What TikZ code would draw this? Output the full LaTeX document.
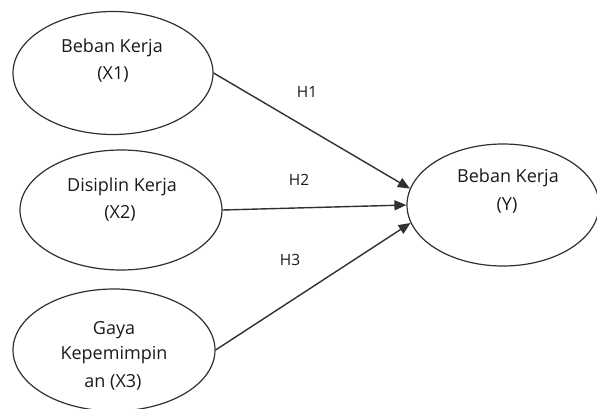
\documentclass[tikz,border=0pt]{standalone}
\usepackage{fontspec}
\setmainfont{Open Sans}
\usetikzlibrary{shapes.geometric,arrows.meta}
\definecolor{ln}{HTML}{303030}
\definecolor{tx}{HTML}{1A1A1A}
\tikzset{
  oval/.style={draw=ln, line width=1.2pt, ellipse, inner sep=0pt},
  txt/.style={text=tx, font=\fontsize{18}{20}\selectfont, inner sep=0pt},
  lab/.style={text=tx, font=\fontsize{15.5}{18}\selectfont, inner sep=0pt},
  arr/.style={draw=ln, line width=1.4pt, -{Triangle[length=12pt,width=10pt]}}
}
\begin{document}
\begin{tikzpicture}[x=1pt,y=-1pt]
\useasboundingbox (0,0) rectangle (597,409);
\clip (0,0) rectangle (597,409);
\node[oval, minimum width=200pt, minimum height=123pt] (x1) at (113,73) {};
\node[oval, minimum width=202pt, minimum height=120pt] (x2) at (121,210) {};
\node[oval, minimum width=202pt, minimum height=122pt] (x3) at (114,350) {};
\node[oval, minimum width=192pt, minimum height=122pt] (y) at (503,205) {};
\node[txt] (t1a) at (112,48) {Beban Kerja};
\node[txt] (t1b) at (113,75) {(X1)};
\node[txt] (t2a) at (122,187) {Disiplin Kerja};
\node[txt] (t2b) at (120,213) {(X2)};
\node[txt] (t3a) at (114,330) {Gaya};
\node[txt] (t3b) at (114,355) {Kepemimpin};
\node[txt] (t3c) at (113,382) {an (X3)};
\node[txt] (tya) at (508,178) {Beban Kerja};
\node[txt] (tyb) at (507,205) {(Y)};
\node[lab] (h1) at (307,92) {H1};
\node[lab] (h2) at (299,180) {H2};
\node[lab] (h3) at (290,260) {H3};
\draw[arr] (x1.east) -- (y.170);
\draw[arr] (x2.east) -- (y.180);
\draw[arr] (x3.east) -- (y.191);
\end{tikzpicture}
\end{document}
